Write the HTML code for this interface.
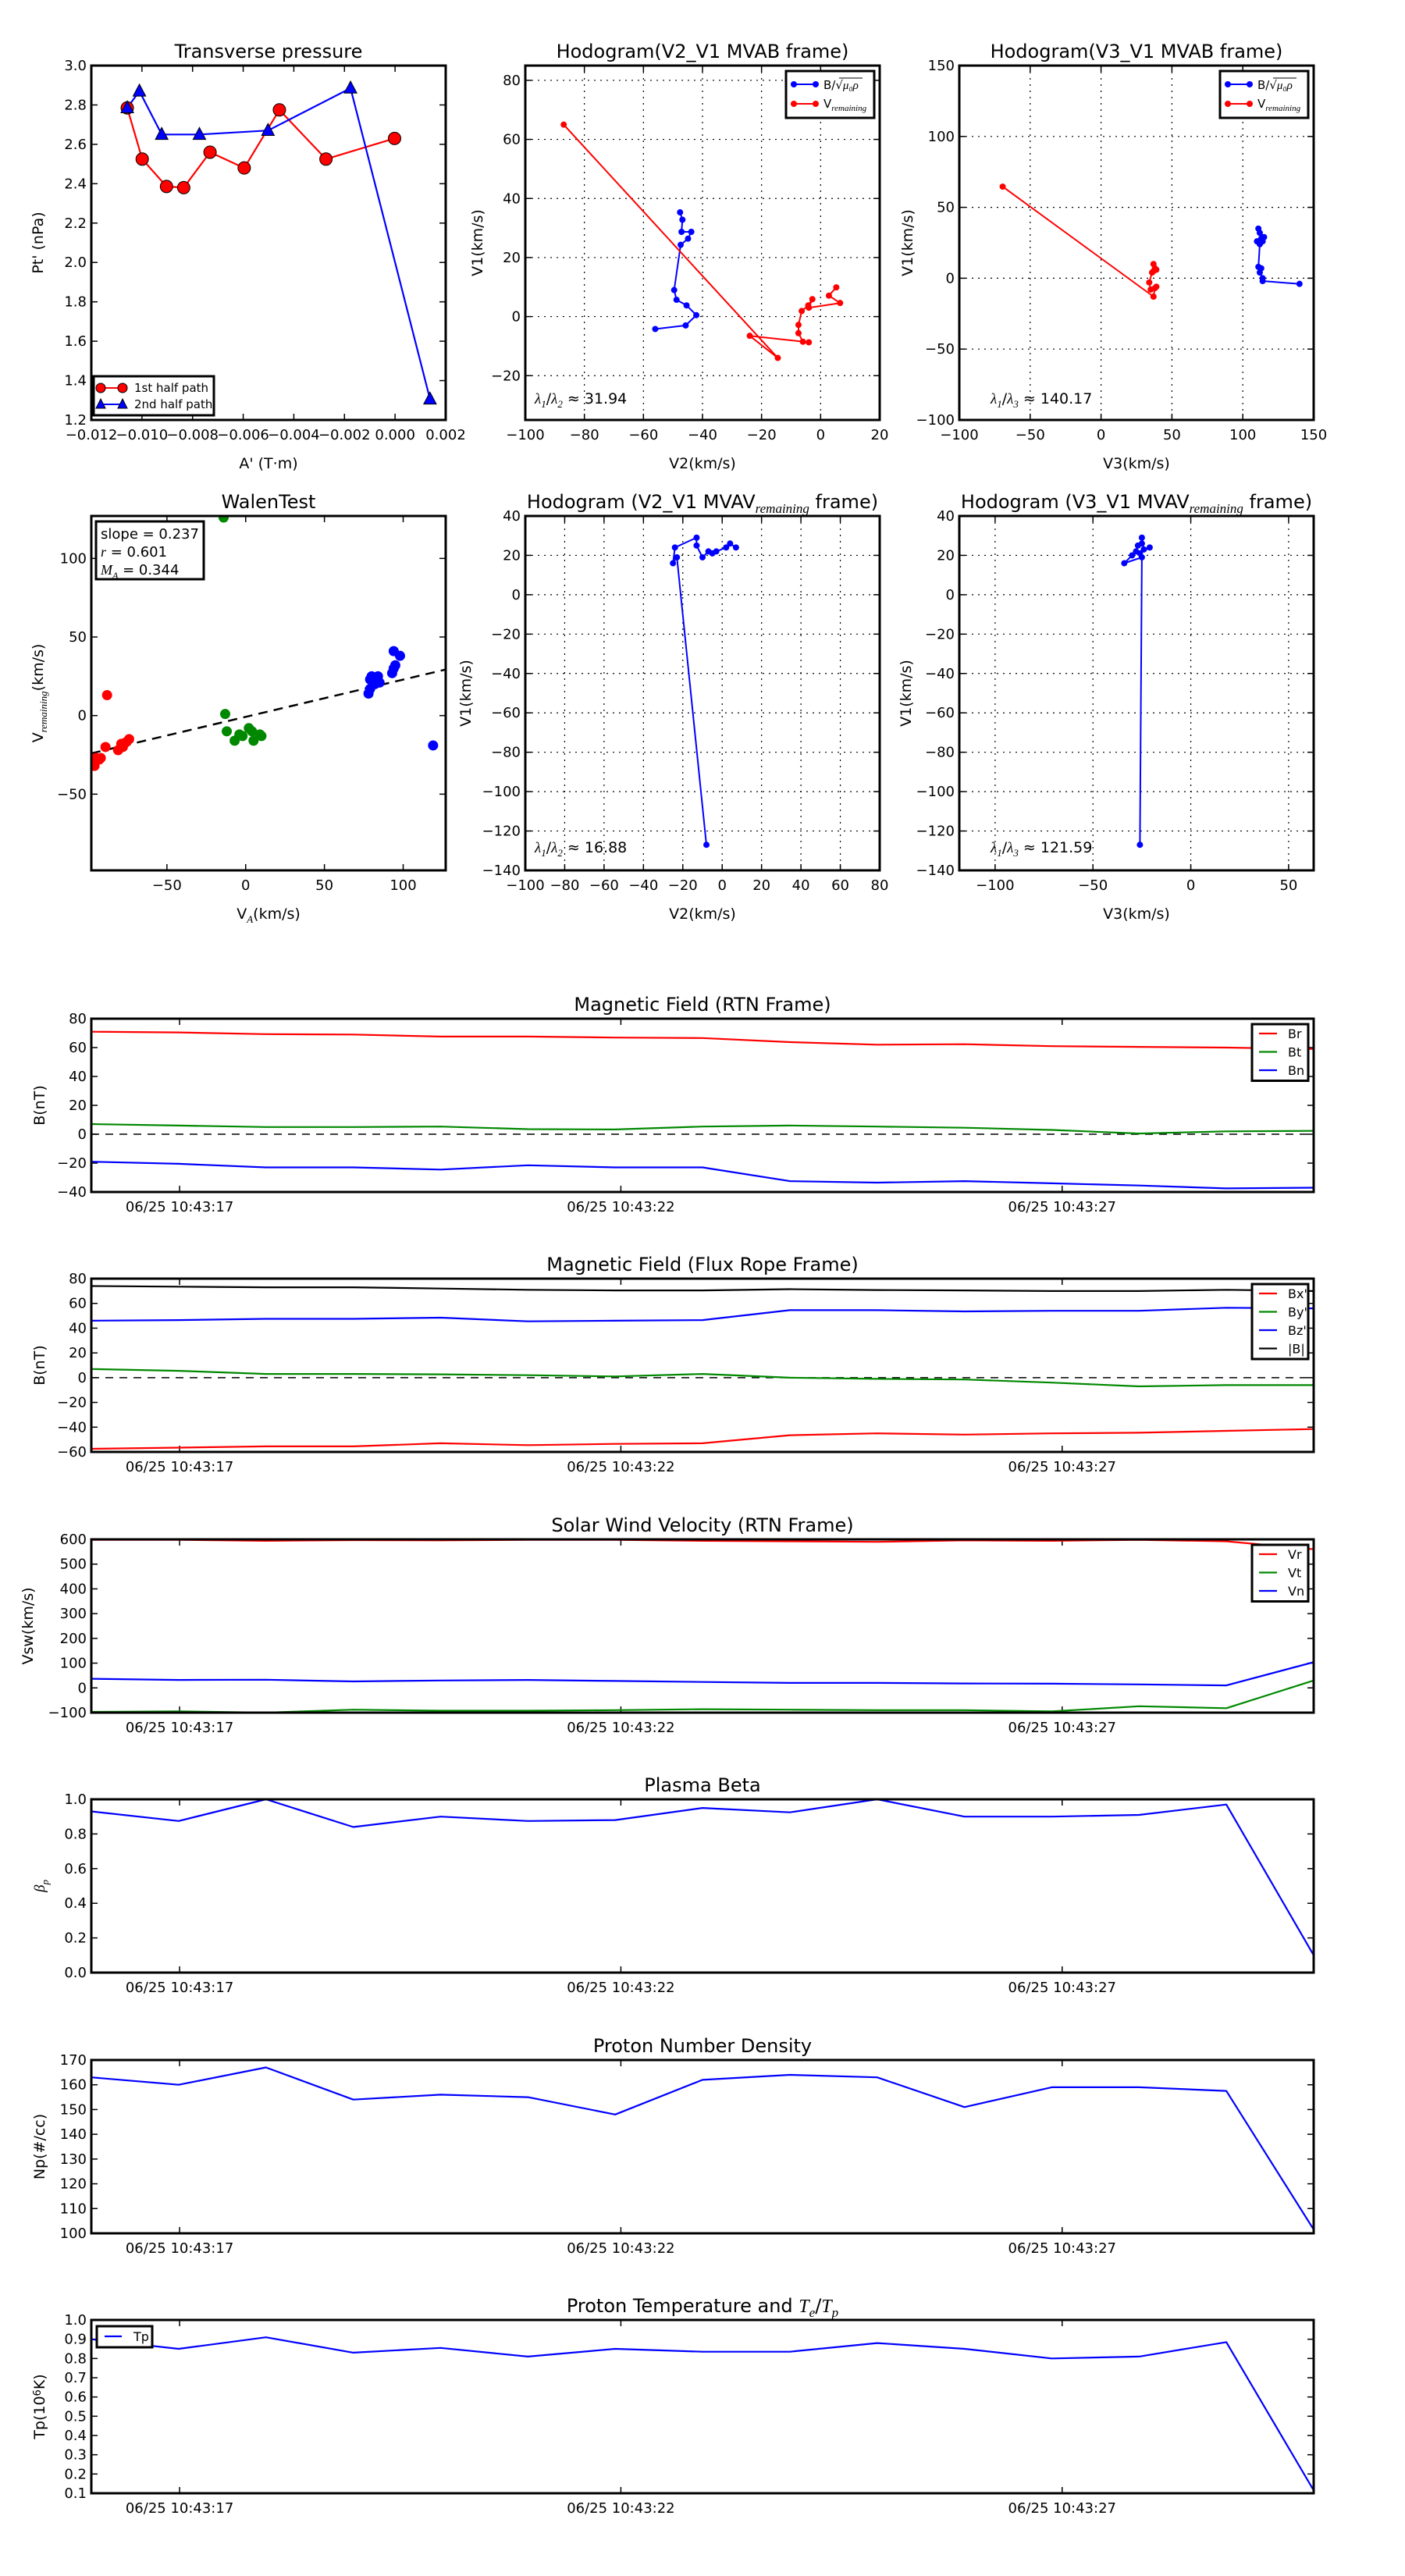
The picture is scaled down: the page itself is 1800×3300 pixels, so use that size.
<!DOCTYPE html>
<html><head><meta charset="utf-8"><title>Flux rope analysis</title>
<style>
html,body{margin:0;padding:0;background:#fff;}
svg{display:block;font-family:"DejaVu Sans","Liberation Sans",sans-serif;}
</style></head>
<body>
<svg id="fig" width="1800" height="3300" viewBox="0 0 1800 3300" xmlns="http://www.w3.org/2000/svg">
<rect x="0" y="0" width="1800" height="3300" fill="#fff"/>
</svg>
<script>
// ---------- DATA ----------
const tpRedA = [-0.01058,-0.00999,-0.00903,-0.00835,-0.00731,-0.00596,-0.00457,-0.00273,-0.00002];
const tpRedP = [2.785,2.525,2.386,2.38,2.56,2.48,2.775,2.525,2.63];
const tpBlueA = [-0.01058,-0.0101,-0.00922,-0.00773,-0.00502,-0.00176,0.00138];
const tpBlueP = [2.785,2.87,2.65,2.65,2.67,2.885,1.306];
const h1BlueX = [-47.6,-46.8,-47.1,-43.8,-44.9,-47.4,-49.6,-48.8,-45.4,-42.1,-45.7,-56];
const h1BlueY = [35.3,32.8,28.7,28.7,26.4,24.3,9,5.7,3.8,0.5,-3.0,-4.2];
const h1RedX = [-87,-14.5,-24,-4,-6,-7.5,-7.5,-6.4,-4.2,-2.8,-4,6.6,2.8,5.3];
const h1RedY = [65,-14,-6.5,-8.7,-8.5,-5.6,-2.8,1.9,3.8,5.9,3,4.6,7.1,9.9];
const h2BlueX = [111,112,113,115,114,110,112,111,113,112,114,114,140];
const h2BlueY = [35,32,28,29,26,26,24,8,7,4,0,-2,-4];
const h2RedX = [-69.4,37,38,39,35,34,36,37,39,38,37];
const h2RedY = [64.6,-13,-7,-6,-8,-3,4,5,6,7,10];
const wRedX = [-95,-93,-96,-97,-92,-89,-88,-81,-79,-78,-76,-74];
const wRedY = [-27,-28,-32,-30,-27,-20,13,-22,-18,-20,-17,-15];
const wGreenX = [-13,-12,-7,-4,-2,2,4,5,9,10,-14];
const wGreenY = [1,-10,-16,-12,-13,-8,-10,-16,-12,-13,126];
const wBlueX = [78,79,79,80,82,84,85,93,94,94,95,98,119];
const wBlueY = [14,17,23,25,20,25,21,27,30,41,32,38,-19];
const wSlope = 0.237, wIntercept = -0.8;
const h3X = [-8,-23,-25,-24,-13,-13,-10,-7,-5,-3,2,4,7];
const h3Y = [-127,19,16,24,29,25,19,22,21,22,24,26,24];
const h4X = [-26,-25,-34,-30,-28,-27,-25,-25,-24,-21,-26];
const h4Y = [-127,19,16,20,22,25,26,29,23,24,21];
const tsTicks = [17,22,27];
const tsTickLabels = ["06/25 10:43:17","06/25 10:43:22","06/25 10:43:27"];
const Br = [71,70.5,69.3,69,67.6,67.6,66.9,66.6,63.8,62,62.3,61,60.5,60,59];
const Bt = [7,6,5,5,5.3,3.5,3.3,5.3,6,5.3,4.5,3,0.5,2,2.3];
const Bn = [-19,-20.5,-23,-23,-24.5,-21.5,-23,-23,-32.5,-33.5,-32.5,-34,-35.5,-37.5,-37];
const Bmag = [74,73.5,73,73,72,71,70.5,70.5,71.5,70.8,70.5,70,70,71,70];
const Bzp = [46,46.5,47.5,47.5,48.5,45.5,46,46.5,54.5,54.5,53.5,54,54,56.5,56];
const Byp = [7,5.5,3,3,2.7,2,1,3,0,-1,-1.5,-4,-7,-6,-6];
const Bxp = [-57.5,-56.5,-55.5,-55.5,-53,-54.5,-53.5,-53,-46.5,-45,-46,-45,-44.5,-43,-41.5];
const Vr = [598,598,594,597,596,598,598,594,592,590,596,594,598,592,560];
const Vt = [-97,-95,-100,-88,-92,-92,-90,-86,-88,-90,-90,-95,-74,-82,30];
const Vn = [37,32,33,26,30,32,28,24,20,20,18,17,14,10,104];
const beta = [0.93,0.875,1.0,0.84,0.9,0.875,0.88,0.95,0.925,1.0,0.9,0.9,0.91,0.97,0.1];
const Np = [163,160,167,154,156,155,148,162,164,163,151,159,159,157.5,101.5];
const Tp = [0.9,0.85,0.91,0.83,0.855,0.81,0.85,0.835,0.835,0.88,0.85,0.8,0.81,0.885,0.115];

// ---------- HELPERS ----------
const NS = "http://www.w3.org/2000/svg";
const fig = document.getElementById('fig');
function mk(tag, attrs, parent){
  const el = document.createElementNS(NS, tag);
  for (const k in attrs) el.setAttribute(k, attrs[k]);
  (parent || fig).appendChild(el);
  return el;
}
function nm(el, name){
  
  
  return el;
}
function txt(x, y, s, size, anchor, parent, extra){
  const t = mk('text', Object.assign({x:x, y:y, 'font-size':size, 'text-anchor':anchor||'middle', fill:'#000'}, extra||{}), parent);
  t.textContent = s;
  return t;
}
// rich text: parts with sub/sup/it; shift using dy and reset
function rich(t, parts, subSize, shift){
  let cur = 0;
  parts.forEach(p => {
    const a = {};
    let target = 0;
    if (p.sub){ target = shift; a['font-size'] = subSize; a['font-style'] = 'italic'; a['font-family'] = 'Liberation Serif, serif'; }
    if (p.sup){ target = -shift; a['font-size'] = subSize; }
    if (p.it){ a['font-style'] = 'italic'; a['font-family'] = 'Liberation Serif, serif'; }
    if (target !== cur){ a.dy = target - cur; cur = target; }
    const s = mk('tspan', a, t);
    s.textContent = p.t;
  });
}
function fmt(v, dec){ const s = v.toFixed(dec); return s.replace('-', '\u2212'); }

function axes(c){
  const g = mk('g', {});
  nm(g, c.name);
  const sx = v => c.x0 + (v - c.xmin) / (c.xmax - c.xmin) * c.w;
  const sy = v => c.y0 + c.h - (v - c.ymin) / (c.ymax - c.ymin) * c.h;
  if (c.grid){
    c.xticks.forEach(v => { const l = mk('line', {x1:sx(v), x2:sx(v), y1:c.y0, y2:c.y0+c.h, stroke:'#000', 'stroke-width':1.2, 'stroke-dasharray':'2,6'}, g); nm(l, 'x-grid-line'); });
    c.yticks.forEach(v => { const l = mk('line', {x1:c.x0, x2:c.x0+c.w, y1:sy(v), y2:sy(v), stroke:'#000', 'stroke-width':1.2, 'stroke-dasharray':'2,6'}, g); nm(l, 'y-grid-line'); });
  }
  const tk = 8;
  c.xticks.forEach((v,i) => {
    const X = sx(v);
    mk('line', {x1:X, x2:X, y1:c.y0+c.h, y2:c.y0+c.h-tk, stroke:'#000', 'stroke-width':1.5}, g);
    mk('line', {x1:X, x2:X, y1:c.y0, y2:c.y0+tk, stroke:'#000', 'stroke-width':1.5}, g);
    const lab = c.xlabels ? c.xlabels[i] : fmt(v, c.xdec||0);
    const t = txt(X, c.y0+c.h+25, lab, 18, 'middle', g);
    nm(t, 'x-tick-label');
  });
  c.yticks.forEach(v => {
    const Y = sy(v);
    mk('line', {x1:c.x0, x2:c.x0+tk, y1:Y, y2:Y, stroke:'#000', 'stroke-width':1.5}, g);
    mk('line', {x1:c.x0+c.w, x2:c.x0+c.w-tk, y1:Y, y2:Y, stroke:'#000', 'stroke-width':1.5}, g);
    const t = txt(c.x0-6, Y+6, fmt(v, c.ydec||0), 18, 'end', g);
    nm(t, 'y-tick-label');
  });
  if (c.title){
    const t = txt(c.x0 + c.w/2, c.y0 - 10, '', 24, 'middle', g);
    nm(t, 'chart-title');
    rich(t, c.title, 17, 6);
  }
  if (c.xlabel){
    const t = txt(c.x0 + c.w/2, c.y0 + c.h + 62, '', 19, 'middle', g);
    nm(t, 'x-axis-title');
    rich(t, c.xlabel, 13, 5);
  }
  if (c.ylabel){
    const yx = c.ylabelX || (c.x0 - 62);
    const t = txt(yx, c.y0 + c.h/2, '', 19, 'middle', g, {transform:'rotate(-90 '+yx+' '+(c.y0+c.h/2)+')'});
    nm(t, 'y-axis-title');
    rich(t, c.ylabel, 13, 5);
  }
  const cid = 'clip' + Math.round(c.x0) + '_' + Math.round(c.y0);
  const cp = mk('clipPath', {id:cid}, g);
  mk('rect', {x:c.x0, y:c.y0, width:c.w, height:c.h}, cp);
  const pg = mk('g', {'clip-path':'url(#'+cid+')'}, g);
  nm(pg, 'plot-area');
  return {sx, sy, g, pg, c};
}
function frame(A){
  const c = A.c;
  const r = mk('rect', {x:c.x0, y:c.y0, width:c.w, height:c.h, fill:'none', stroke:'#000', 'stroke-width':3}, A.g);
  nm(r, 'axes-frame');
}
function polyline(A, xs, ys, color, name, width){
  const pts = xs.map((x,i) => A.sx(x).toFixed(1) + ',' + A.sy(ys[i]).toFixed(1)).join(' ');
  const p = mk('polyline', {points:pts, fill:'none', stroke:color, 'stroke-width':width||2.2, 'stroke-linejoin':'round'}, A.pg);
  nm(p, name);
  return p;
}
function dots(A, xs, ys, color, r, name, edge){
  xs.forEach((x,i) => {
    const d = mk('circle', {cx:A.sx(x), cy:A.sy(ys[i]), r:r, fill:color, stroke:'#000', 'stroke-width': edge?1:0}, A.pg);
    nm(d, name);
  });
}
function tris(A, xs, ys, color, s, name){
  xs.forEach((x,i) => {
    const X = A.sx(x), Y = A.sy(ys[i]);
    const p = mk('polygon', {points:`${X},${Y-s} ${X-s*0.9},${Y+s*0.7} ${X+s*0.9},${Y+s*0.7}`, fill:color, stroke:'#000', 'stroke-width':1}, A.pg);
    nm(p, name);
  });
}
function legendBox(x, y, w, h, name){
  const g = mk('g', {});
  nm(g, name);
  mk('rect', {x:x, y:y, width:w, height:h, fill:'#fff', stroke:'#000', 'stroke-width':3}, g);
  return g;
}

const PW = 454;
const colX = [117, 673, 1229];
const row1Y = 84, row2Y = 661;

// Transverse pressure
{
  const A = axes({name:'transverse-pressure-chart', x0:colX[0], y0:row1Y, w:PW, h:PW,
    xmin:-0.012, xmax:0.002, ymin:1.2, ymax:3.0,
    xticks:[-0.012,-0.010,-0.008,-0.006,-0.004,-0.002,0.000,0.002], xdec:3,
    yticks:[1.2,1.4,1.6,1.8,2.0,2.2,2.4,2.6,2.8,3.0], ydec:1,
    title:[{t:'Transverse pressure'}], xlabel:[{t:"A' (T\u00b7m)"}], ylabel:[{t:"Pt' (nPa)"}]});
  polyline(A, tpRedA, tpRedP, '#f00', 'first-half-path-line', 2.2);
  polyline(A, tpBlueA, tpBlueP, '#00f', 'second-half-path-line', 2.2);
  dots(A, tpRedA, tpRedP, '#f00', 8, 'first-half-point', true);
  tris(A, tpBlueA, tpBlueP, '#00f', 9, 'second-half-point');
  frame(A);
  const L = legendBox(120, 482, 154, 50, 'pressure-legend');
  mk('line', {x1:128, x2:158, y1:497, y2:497, stroke:'#f00', 'stroke-width':2}, L);
  mk('circle', {cx:129, cy:497, r:6, fill:'#f00', stroke:'#000'}, L);
  mk('circle', {cx:157, cy:497, r:6, fill:'#f00', stroke:'#000'}, L);
  const t1 = txt(172, 502, '1st half path', 15, 'start', L); nm(t1, 'legend-entry-first-half');
  mk('line', {x1:128, x2:158, y1:518, y2:518, stroke:'#00f', 'stroke-width':2}, L);
  mk('polygon', {points:'129,511 123,523 135,523', fill:'#00f', stroke:'#000'}, L);
  mk('polygon', {points:'157,511 151,523 163,523', fill:'#00f', stroke:'#000'}, L);
  const t2 = txt(172, 523, '2nd half path', 15, 'start', L); nm(t2, 'legend-entry-second-half');
}

function hodoLegend(x, y, name){
  const L = legendBox(x, y, 113, 60, name);
  mk('line', {x1:x+10, x2:x+38, y1:y+17, y2:y+17, stroke:'#00f', 'stroke-width':2}, L);
  mk('circle', {cx:x+10, cy:y+17, r:4, fill:'#00f'}, L);
  mk('circle', {cx:x+38, cy:y+17, r:4, fill:'#00f'}, L);
  const t1 = txt(x+48, y+23, '', 15, 'start', L); nm(t1, 'legend-entry-b');
  rich(t1, [{t:'B/\u221a'},{t:'\u03bc\u2080\u03c1', it:true}], 13, 5);
  mk('line', {x1:x+68, x2:x+98, y1:y+9, y2:y+9, stroke:'#000', 'stroke-width':1}, L);
  mk('line', {x1:x+10, x2:x+38, y1:y+42, y2:y+42, stroke:'#f00', 'stroke-width':2}, L);
  mk('circle', {cx:x+10, cy:y+42, r:4, fill:'#f00'}, L);
  mk('circle', {cx:x+38, cy:y+42, r:4, fill:'#f00'}, L);
  const t2 = txt(x+48, y+47, '', 15, 'start', L); nm(t2, 'legend-entry-v');
  rich(t2, [{t:'V'},{t:'remaining', sub:true}], 11, 4);
}
function lambdaText(x, y, a, b, val){
  const t = txt(x, y, '', 19, 'start');
  nm(t, 'eigenvalue-ratio-label');
  rich(t, [{t:'\u03bb', it:true},{t:a, sub:true},{t:'/'},{t:'\u03bb', it:true},{t:b, sub:true},{t:' \u2248 ' + val}], 13, 5);
}

{
  const A = axes({name:'hodogram-v2-v1-mvab', x0:colX[1], y0:row1Y, w:PW, h:PW,
    xmin:-100, xmax:20, ymin:-35, ymax:85, grid:true,
    xticks:[-100,-80,-60,-40,-20,0,20], yticks:[-20,0,20,40,60,80],
    title:[{t:'Hodogram(V2_V1 MVAB frame)'}], xlabel:[{t:'V2(km/s)'}], ylabel:[{t:'V1(km/s)'}], ylabelX: colX[1]-55});
  polyline(A, h1BlueX, h1BlueY, '#00f', 'b-hodogram-line', 2);
  dots(A, h1BlueX, h1BlueY, '#00f', 4, 'b-hodogram-point');
  polyline(A, h1RedX, h1RedY, '#f00', 'v-hodogram-line', 2);
  dots(A, h1RedX, h1RedY, '#f00', 4, 'v-hodogram-point');
  frame(A);
  hodoLegend(1007, 91, 'hodogram-legend');
  lambdaText(colX[1]+12, 517, '1', '2', '31.94');
}
{
  const A = axes({name:'hodogram-v3-v1-mvab', x0:colX[2], y0:row1Y, w:PW, h:PW,
    xmin:-100, xmax:150, ymin:-100, ymax:150, grid:true,
    xticks:[-100,-50,0,50,100,150], yticks:[-100,-50,0,50,100,150],
    title:[{t:'Hodogram(V3_V1 MVAB frame)'}], xlabel:[{t:'V3(km/s)'}], ylabel:[{t:'V1(km/s)'}], ylabelX: colX[2]-60});
  polyline(A, h2BlueX, h2BlueY, '#00f', 'b-hodogram-line', 2);
  dots(A, h2BlueX, h2BlueY, '#00f', 4, 'b-hodogram-point');
  polyline(A, h2RedX, h2RedY, '#f00', 'v-hodogram-line', 2);
  dots(A, h2RedX, h2RedY, '#f00', 4, 'v-hodogram-point');
  frame(A);
  hodoLegend(1563, 91, 'hodogram-legend');
  lambdaText(colX[2]+40, 517, '1', '3', '140.17');
}

// Walen test
{
  const A = axes({name:'walen-test-chart', x0:colX[0], y0:row2Y, w:PW, h:PW,
    xmin:-98, xmax:127, ymin:-98.5, ymax:127,
    xticks:[-50,0,50,100], yticks:[-50,0,50,100],
    title:[{t:'WalenTest'}], xlabel:[{t:'V'},{t:'A',sub:true},{t:'(km/s)'}], ylabel:[{t:'V'},{t:'remaining',sub:true},{t:'(km/s)'}], ylabelX: colX[0]-62});
  const fx = [-98, 127];
  const fy = fx.map(v => wSlope * v + wIntercept);
  const fl = polyline(A, fx, fy, '#000', 'fit-line', 2.5);
  fl.setAttribute('stroke-dasharray', '12,8');
  dots(A, wRedX, wRedY, '#f00', 6.5, 'walen-red-point');
  dots(A, wGreenX, wGreenY, '#080', 6.5, 'walen-green-point');
  dots(A, wBlueX, wBlueY, '#00f', 6.5, 'walen-blue-point');
  frame(A);
  const L = legendBox(123, 668, 138, 74, 'walen-stats-box');
  const a = txt(129, 690, 'slope = 0.237', 18, 'start', L); nm(a, 'slope-label');
  const b = txt(129, 713, '', 18, 'start', L); nm(b, 'r-label');
  rich(b, [{t:'r', it:true},{t:' = 0.601'}], 12, 5);
  const c = txt(129, 736, '', 18, 'start', L); nm(c, 'mach-label');
  rich(c, [{t:'M', it:true},{t:'A', sub:true},{t:' = 0.344'}], 12, 5);
}
{
  const A = axes({name:'hodogram-v2-v1-mvav', x0:colX[1], y0:row2Y, w:PW, h:PW,
    xmin:-100, xmax:80, ymin:-140, ymax:40, grid:true,
    xticks:[-100,-80,-60,-40,-20,0,20,40,60,80], yticks:[-140,-120,-100,-80,-60,-40,-20,0,20,40],
    title:[{t:'Hodogram (V2_V1 MVAV'},{t:'remaining',sub:true},{t:' frame)'}], xlabel:[{t:'V2(km/s)'}], ylabel:[{t:'V1(km/s)'}], ylabelX: colX[1]-70});
  polyline(A, h3X, h3Y, '#00f', 'mvav-hodogram-line', 2);
  dots(A, h3X, h3Y, '#00f', 4, 'mvav-hodogram-point');
  frame(A);
  lambdaText(colX[1]+12, 1092, '1', '2', '16.88');
}
{
  const A = axes({name:'hodogram-v3-v1-mvav', x0:colX[2], y0:row2Y, w:PW, h:PW,
    xmin:-118.3, xmax:62.8, ymin:-140, ymax:40, grid:true,
    xticks:[-100,-50,0,50], yticks:[-140,-120,-100,-80,-60,-40,-20,0,20,40],
    title:[{t:'Hodogram (V3_V1 MVAV'},{t:'remaining',sub:true},{t:' frame)'}], xlabel:[{t:'V3(km/s)'}], ylabel:[{t:'V1(km/s)'}], ylabelX: colX[2]-62});
  polyline(A, h4X, h4Y, '#00f', 'mvav-hodogram-line', 2);
  dots(A, h4X, h4Y, '#00f', 4, 'mvav-hodogram-point');
  frame(A);
  lambdaText(colX[2]+40, 1092, '1', '3', '121.59');
}

// ---------- TIME SERIES ----------
const TX0 = 117, TW = 1566, TH = 222;
const tStart = 16.0, tEnd = 29.85;
const tIdx = Br.map((_, i) => tStart + i * (tEnd - tStart) / (Br.length - 1));
const panelY = [1305, 1638, 1972, 2305, 2639, 2972];

function tsPanel(o){
  const A = axes({name:o.name, x0:TX0, y0:o.y0, w:TW, h:TH, xmin:tStart, xmax:tEnd, ymin:o.ymin, ymax:o.ymax,
    xticks:tsTicks, xlabels:tsTickLabels, yticks:o.yticks, ydec:o.ydec||0,
    title:o.title, ylabel:o.ylabel, ylabelX:o.ylabelX||57});
  if (o.zero){
    const z = polyline(A, [tStart, tEnd], [0, 0], '#000', 'zero-line', 1.5);
    z.setAttribute('stroke-dasharray', '10,8');
  }
  o.series.forEach(s => polyline(A, tIdx, s.v, s.c, s.n, 2.2));
  frame(A);
  if (o.legend){
    const n = o.series.length;
    const h = 2 + n * 23.5;
    const L = legendBox(1604, o.y0 + 7, 72, h, o.name + '-legend');
    o.series.forEach((s, i) => {
      const yy = o.y0 + 7 + 12 + i * 23.5;
      mk('line', {x1:1613, x2:1636, y1:yy, y2:yy, stroke:s.c, 'stroke-width':2.2}, L);
      const t = txt(1650, yy + 6, s.label, 16, 'start', L);
      nm(t, 'legend-entry');
    });
  }
  return A;
}

tsPanel({name:'magnetic-field-rtn-chart', y0:panelY[0], ymin:-40, ymax:80, yticks:[-40,-20,0,20,40,60,80], zero:true,
  title:[{t:'Magnetic Field (RTN Frame)'}], ylabel:[{t:'B(nT)'}], legend:true,
  series:[{v:Br,c:'#f00',n:'br-line',label:'Br'},{v:Bt,c:'#080',n:'bt-line',label:'Bt'},{v:Bn,c:'#00f',n:'bn-line',label:'Bn'}]});
tsPanel({name:'magnetic-field-flux-rope-chart', y0:panelY[1], ymin:-60, ymax:80, yticks:[-60,-40,-20,0,20,40,60,80], zero:true,
  title:[{t:'Magnetic Field (Flux Rope Frame)'}], ylabel:[{t:'B(nT)'}], legend:true,
  series:[{v:Bxp,c:'#f00',n:'bx-prime-line',label:"Bx'"},{v:Byp,c:'#080',n:'by-prime-line',label:"By'"},{v:Bzp,c:'#00f',n:'bz-prime-line',label:"Bz'"},{v:Bmag,c:'#000',n:'b-magnitude-line',label:'|B|'}]});
tsPanel({name:'solar-wind-velocity-chart', y0:panelY[2], ymin:-100, ymax:600, yticks:[-100,0,100,200,300,400,500,600],
  title:[{t:'Solar Wind Velocity (RTN Frame)'}], ylabel:[{t:'Vsw(km/s)'}], ylabelX:42, legend:true,
  series:[{v:Vr,c:'#f00',n:'vr-line',label:'Vr'},{v:Vt,c:'#080',n:'vt-line',label:'Vt'},{v:Vn,c:'#00f',n:'vn-line',label:'Vn'}]});
tsPanel({name:'plasma-beta-chart', y0:panelY[3], ymin:0, ymax:1, yticks:[0,0.2,0.4,0.6,0.8,1.0], ydec:1,
  title:[{t:'Plasma Beta'}], ylabel:[{t:'\u03b2', it:true},{t:'p',sub:true}],
  series:[{v:beta,c:'#00f',n:'beta-line',label:'beta'}]});
tsPanel({name:'proton-density-chart', y0:panelY[4], ymin:100, ymax:170, yticks:[100,110,120,130,140,150,160,170],
  title:[{t:'Proton Number Density'}], ylabel:[{t:'Np(#/cc)'}],
  series:[{v:Np,c:'#00f',n:'density-line',label:'Np'}]});
{
  tsPanel({name:'proton-temperature-chart', y0:panelY[5], ymin:0.1, ymax:1.0, yticks:[0.1,0.2,0.3,0.4,0.5,0.6,0.7,0.8,0.9,1.0], ydec:1,
    title:[{t:'Proton Temperature and '},{t:'T', it:true},{t:'e',sub:true},{t:'/'},{t:'T', it:true},{t:'p',sub:true}], ylabel:[{t:'Tp('},{t:'10'},{t:'6',sup:true},{t:'K)'}],
    series:[{v:Tp,c:'#00f',n:'tp-line',label:'Tp'}]});
  const L = legendBox(124, 2980, 71, 27, 'temperature-legend');
  mk('line', {x1:134, x2:156, y1:2993, y2:2993, stroke:'#00f', 'stroke-width':2.2}, L);
  const t = txt(171, 2999, 'Tp', 16, 'start', L);
  nm(t, 'legend-entry');
}
</script>
</body></html>
